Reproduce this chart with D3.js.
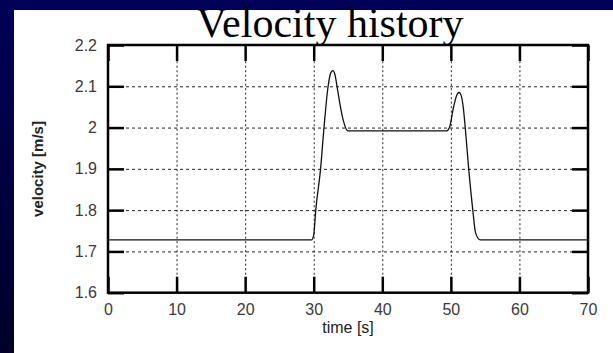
<!DOCTYPE html>
<html>
<head>
<meta charset="utf-8">
<script src="https://cdn.jsdelivr.net/npm/d3@7"></script>
<style>
  body { margin: 0; overflow: hidden; }
  svg { display: block; }
  .tick text { font-family: 'Liberation Sans', Arial, sans-serif; font-size: 16px; fill: #3a3a3a; }
</style>
</head>
<body>
<svg id="chart" width="613" height="353"></svg>
<script>
// velocity trace
const timeVals = [0, 29.7, 30.0, 30.3, 31.0, 31.5, 32.1, 32.5, 32.8, 33.1, 33.4, 33.9, 34.3, 35.0,
  49.4, 49.8, 50.4, 50.9, 51.2, 51.5, 51.8, 52.1, 52.6, 53.2, 53.6, 54.3, 70];
const velocityVals = [1.728, 1.728, 1.74, 1.8, 1.9, 2.0, 2.1, 2.133, 2.138, 2.128, 2.1, 2.05, 2.018, 1.992,
  1.992, 2.0, 2.05, 2.08, 2.085, 2.078, 2.05, 2.0, 1.9, 1.8, 1.745, 1.728, 1.728];

const xTicks = [0, 10, 20, 30, 40, 50, 60, 70];
const yTicks = [1.6, 1.7, 1.8, 1.9, 2, 2.1, 2.2];

const svg = d3.select('#chart');
const W = 613, H = 353;

// slide background
const grad = svg.append('defs').append('linearGradient')
  .attr('id', 'bg').attr('x1', 0).attr('y1', 0).attr('x2', 0).attr('y2', 1);
grad.append('stop').attr('offset', '0%').attr('stop-color', '#000058');
grad.append('stop').attr('offset', '100%').attr('stop-color', '#00002a');
svg.append('rect').attr('width', W).attr('height', H).attr('fill', 'url(#bg)');
svg.append('rect').attr('x', 14).attr('y', 10).attr('width', W - 14).attr('height', H - 10).attr('fill', '#fff');

const pLeft = 108, pRight = 588, pTop = 45, pBottom = 292.7;

const x = d3.scaleLinear().domain([0, 70]).range([pLeft, pRight]);
const y = d3.scaleLinear().domain([1.6, 2.2]).range([pBottom, pTop]);

// dotted grid
svg.append('g')
  .attr('transform', `translate(0,${pBottom})`)
  .call(d3.axisBottom(x).tickValues(xTicks.slice(1, -1)).tickSize(-(pBottom - pTop)).tickFormat(''))
  .call((g) => g.select('.domain').remove())
  .selectAll('line').attr('stroke', '#222').attr('stroke-dasharray', '2,2.5');

svg.append('g')
  .attr('transform', `translate(${pLeft},0)`)
  .call(d3.axisLeft(y).tickValues(yTicks.slice(1, -1)).tickSize(-(pRight - pLeft)).tickFormat(''))
  .call((g) => g.select('.domain').remove())
  .selectAll('line').attr('stroke', '#222').attr('stroke-dasharray', '3,3');

// curve
const line = d3.line()
  .x((d, i) => x(timeVals[i]))
  .y((d) => y(d))
  .curve(d3.curveMonotoneX);

svg.append('path')
  .datum(velocityVals)
  .attr('fill', 'none')
  .attr('stroke', '#111')
  .attr('stroke-width', 1.3)
  .attr('d', line);

// axes with inward ticks
const tick = 16;
const styleAxis = (g) => {
  g.select('.domain').remove();
  g.selectAll('line').attr('stroke', '#000').attr('stroke-width', 2.5);
};

svg.append('g')
  .attr('transform', `translate(0,${pBottom})`)
  .call(d3.axisBottom(x).tickValues(xTicks).tickSizeInner(-tick).tickSizeOuter(0).tickPadding(11))
  .call(styleAxis);

svg.append('g')
  .attr('transform', `translate(0,${pTop})`)
  .call(d3.axisTop(x).tickValues(xTicks).tickSizeInner(-tick).tickSizeOuter(0).tickFormat(''))
  .call(styleAxis);

svg.append('g')
  .attr('transform', `translate(${pLeft},0)`)
  .call(d3.axisLeft(y).tickValues(yTicks).tickSizeInner(-tick).tickSizeOuter(0).tickPadding(11).tickFormat(d3.format('')))
  .call(styleAxis);

svg.append('g')
  .attr('transform', `translate(${pRight},0)`)
  .call(d3.axisRight(y).tickValues(yTicks).tickSizeInner(-tick).tickSizeOuter(0).tickFormat(''))
  .call(styleAxis);

// frame
svg.append('rect')
  .attr('x', pLeft).attr('y', pTop)
  .attr('width', pRight - pLeft).attr('height', pBottom - pTop)
  .attr('fill', 'none').attr('stroke', '#000').attr('stroke-width', 2.5);

// labels
svg.append('text')
  .attr('x', (pLeft + pRight) / 2)
  .attr('y', 333)
  .attr('text-anchor', 'middle')
  .style('font-family', "'Liberation Sans', Arial, sans-serif")
  .style('font-size', '16px')
  .style('fill', '#222')
  .text('time [s]');

svg.append('text')
  .attr('transform', 'translate(43,169) rotate(-90)')
  .attr('text-anchor', 'middle')
  .style('font-family', "'Liberation Sans', Arial, sans-serif")
  .style('font-size', '15px')
  .style('font-weight', 'bold')
  .style('fill', '#222')
  .text('velocity [m/s]');

svg.append('text')
  .attr('x', 330)
  .attr('y', 37)
  .attr('text-anchor', 'middle')
  .style('font-family', "'Liberation Serif', 'Times New Roman', serif")
  .style('font-size', '42px')
  .style('fill', '#000')
  .text('Velocity history');
</script>
</body>
</html>
